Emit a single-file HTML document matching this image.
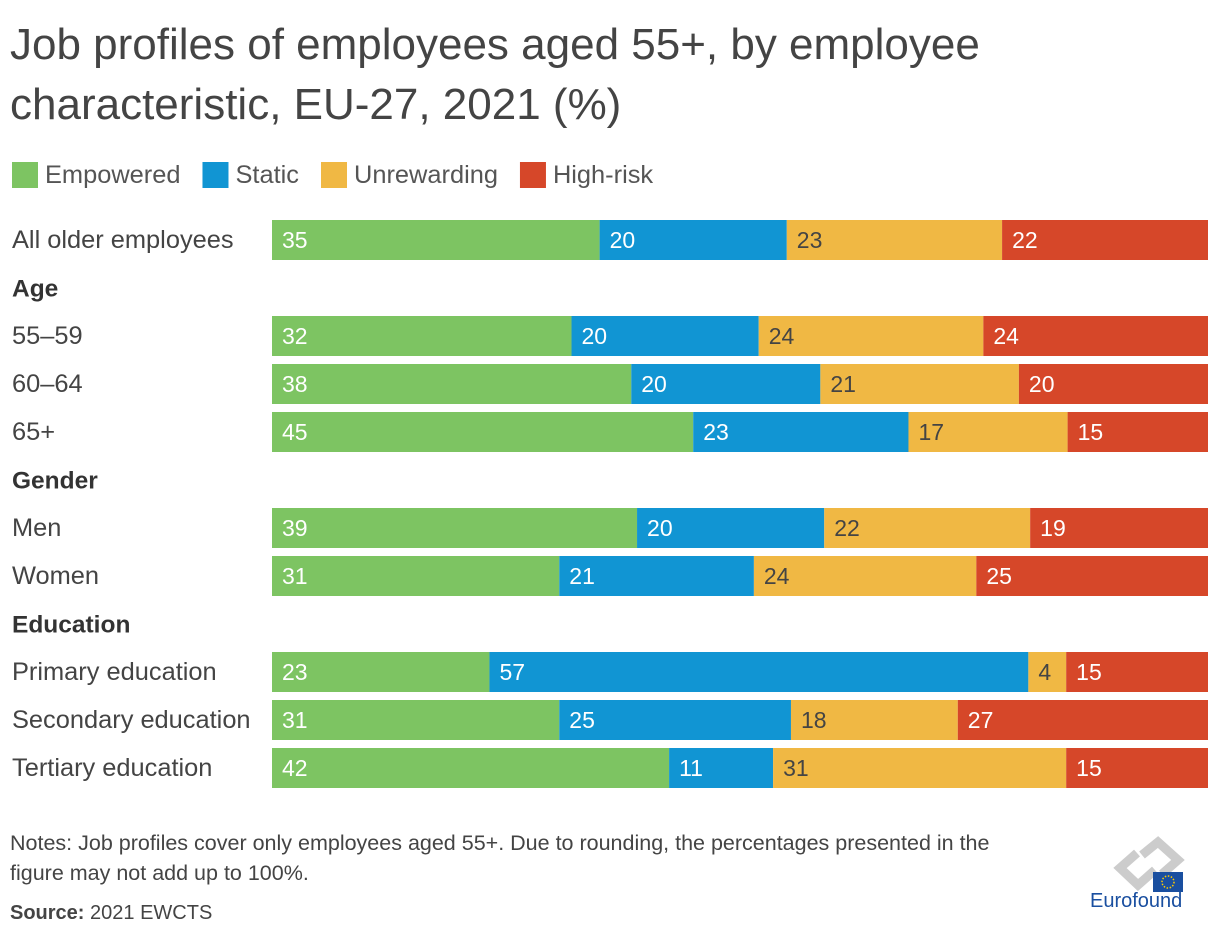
<!DOCTYPE html>
<html><head><meta charset="utf-8"><style>
body{margin:0;width:1220px;height:940px;background:#fff;font-family:"Liberation Sans",sans-serif;color:#333;position:relative;overflow:hidden}
.t{position:absolute;white-space:nowrap}
</style></head><body>
<div class="t" style="left:10px;top:15px;font-size:44px;line-height:60px;color:#444">Job profiles of employees aged 55+, by employee<br>characteristic, EU-27, 2021 (%)</div>
<svg id="chart" width="1220" height="940" style="position:absolute;left:0;top:0"></svg>
<div class="t" style="left:10px;top:828px;font-size:21.5px;line-height:30px;color:#444">Notes: Job profiles cover only employees aged 55+. Due to rounding, the percentages presented in the<br>figure may not add up to 100%.</div>
<div class="t" style="left:10px;top:902px;font-size:20px;color:#444"><b>Source:</b> 2021 EWCTS</div>
<svg width="130" height="90" style="position:absolute;left:1080px;top:830px">
<g fill="none" stroke="#ccc" stroke-width="9"><path d="M62 25 L78 12 L98 30 L82 44"/><path d="M75 40 L58 55 L40 38 L57 23"/></g>
<rect x="73" y="42" width="30" height="20" fill="#1a4fa0"/>
<circle cx="88" cy="52" r="6" fill="none" stroke="#fc0" stroke-width="1.5" stroke-dasharray="1.5 1.6"/>
<text x="10" y="77" font-size="20" fill="#1a4fa0" font-family="Liberation Sans">Eurofound</text>
</svg>
<script>
const categories=["All older employees","55–59","60–64","65+","Men","Women","Primary education","Secondary education","Tertiary education"];
const empowered=[35,32,38,45,39,31,23,31,42];
const staticV=[20,20,20,23,20,21,57,25,11];
const unrewarding=[23,24,21,17,22,24,4,18,31];
const highRisk=[22,24,20,15,19,25,15,27,15];
const seriesNames=["Empowered","Static","Unrewarding","High-risk"];
const colors=["#7dc462","#1195d3","#f0b844","#d64729"];
const headers=["Age","Gender","Education"];
const rowY=[240,336,384,432,528,576,672,720,768];
const headerY=[289,481,625];
const X0=272,X1=1208;
const ns="http://www.w3.org/2000/svg";
const svg=document.getElementById('chart');
const series=[empowered,staticV,unrewarding,highRisk];
function sx(v,tot){return (X1-X0)*v/tot;}
function txt(x,y,s,opt){const t=document.createElementNS(ns,'text');t.setAttribute('x',x);t.setAttribute('y',y);t.setAttribute('font-size',opt.size||23);t.setAttribute('fill',opt.fill||'#333');if(opt.bold)t.setAttribute('font-weight','bold');t.setAttribute('dominant-baseline','central');t.textContent=s;svg.appendChild(t);return t;}
categories.forEach((c,i)=>{
 const l=txt(12,rowY[i],c,{size:25.4,fill:'#444'});
 
 
 const tot=series.reduce((a,s)=>a+s[i],0);let x=X0;
 series.forEach((s,j)=>{const w=sx(s[i],tot);
  const r=document.createElementNS(ns,'rect');r.setAttribute('x',x);r.setAttribute('y',rowY[i]-20);r.setAttribute('width',w);r.setAttribute('height',40);r.setAttribute('fill',colors[j]);
  
  
  svg.appendChild(r);
  const v=txt(x+10,rowY[i],String(s[i]),{size:23,fill:j==2?'#444':'#fff'});
  
  
  x+=w;});
});
headers.forEach((h,i)=>{const t=txt(12,headerY[i],h,{size:24.5,bold:true,fill:'#333'});
 
 });
let lx=12;
seriesNames.forEach((n,j)=>{const r=document.createElementNS(ns,'rect');r.setAttribute('x',lx);r.setAttribute('y',162);r.setAttribute('width',26);r.setAttribute('height',26);r.setAttribute('fill',colors[j]);
 
 
 svg.appendChild(r);
 const t=txt(lx+33,175,n,{size:25.4,fill:'#555'});
 
 
 lx+=33+t.getComputedTextLength()+22;});
</script>
</body></html>
